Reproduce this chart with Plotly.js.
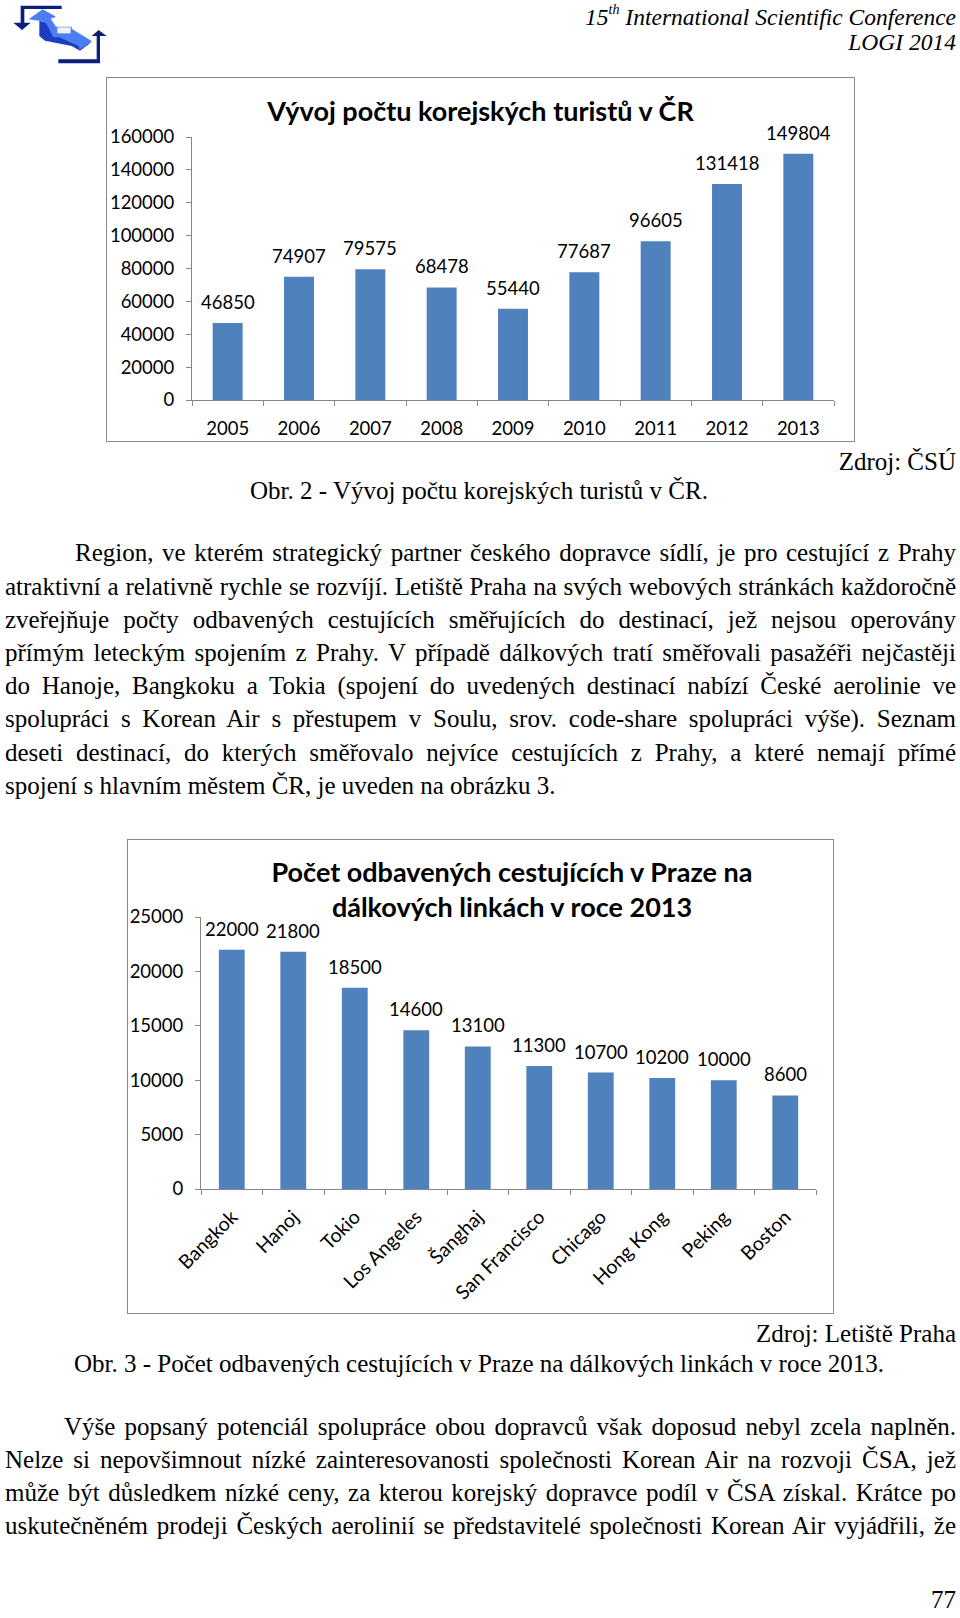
<!DOCTYPE html>
<html><head><meta charset="utf-8">
<script src="https://cdn.plot.ly/plotly-3.0.1.min.js"></script>
<style>
html,body{margin:0;padding:0;background:#fff;}
#page{position:relative;width:960px;height:1618px;overflow:hidden;font-family:"Liberation Serif","Times New Roman",serif;color:#000;}
.t{position:absolute;white-space:nowrap;font-size:25px;line-height:33px;}
.ln{position:absolute;white-space:nowrap;font-size:25px;line-height:33px;}
.hdr{position:absolute;white-space:nowrap;font-style:italic;font-size:23.5px;line-height:26px;right:4px;}
.box{position:absolute;border:1px solid #8a8a8a;box-sizing:border-box;}
.box > div{position:absolute;left:0;top:0;}
</style></head>
<body><div id="page">

<svg style="position:absolute;left:0;top:0" width="120" height="65" viewBox="0 0 360 195">
  <polygon points="118,62 118,108 135,122 215,138 240,152 272,128 215,102 168,102 160,72" fill="#1e3cc0"/>
  <polygon points="86,58 128,28 168,50 152,56 168,80 215,80 215,86 276,124 238,150 236,138 178,112 160,112 140,72 128,64" fill="#4d7df2"/>
  <rect x="172" y="82" width="40" height="18" fill="#f2f2f6"/>
  <polygon points="62,17 185,17 185,27 73,27 73,68 92,68 66,90 40,68 62,68" fill="#0c1f7c"/>
  <polygon points="300,190 175,190 175,178 290,178 290,108 275,108 296,90 320,108 300,108" fill="#0c1f7c"/>
</svg>

<div class="hdr" style="top:4px">15<sup style="font-size:14px;position:relative;top:-2px;line-height:0">th</sup> International Scientific Conference</div>
<div class="hdr" style="top:29px">LOGI 2014</div>

<div class="box" style="left:106px;top:77px;width:749px;height:365px"><div id="chart1"></div></div>

<div class="t" style="right:4px;top:445px">Zdroj: ČSÚ</div>
<div class="t" style="left:0;width:958px;text-align:center;top:474px">Obr. 2 - Vývoj počtu korejských turistů v ČR.</div>

<div class="ln jl" data-w="881" style="left:75px;top:536px">Region, ve kterém strategický partner českého dopravce sídlí, je pro cestující z Prahy</div>
<div class="ln jl" data-w="951" style="left:5px;top:570px">atraktivní a relativně rychle se rozvíjí. Letiště Praha na svých webových stránkách každoročně</div>
<div class="ln jl" data-w="951" style="left:5px;top:603px">zveřejňuje počty odbavených cestujících směřujících do destinací, jež nejsou operovány</div>
<div class="ln jl" data-w="951" style="left:5px;top:636px">přímým leteckým spojením z Prahy. V případě dálkových tratí směřovali pasažéři nejčastěji</div>
<div class="ln jl" data-w="951" style="left:5px;top:669px">do Hanoje, Bangkoku a Tokia (spojení do uvedených destinací nabízí České aerolinie ve</div>
<div class="ln jl" data-w="951" style="left:5px;top:702px">spolupráci s Korean Air s přestupem v Soulu, srov. code-share spolupráci výše). Seznam</div>
<div class="ln jl" data-w="951" style="left:5px;top:736px">deseti destinací, do kterých směřovalo nejvíce cestujících z Prahy, a které nemají přímé</div>
<div class="ln" style="left:5px;top:769px">spojení s hlavním městem ČR, je uveden na obrázku 3.</div>

<div class="box" style="left:127px;top:839px;width:707px;height:475px"><div id="chart2"></div></div>

<div class="t" style="right:4px;top:1317px">Zdroj: Letiště Praha</div>
<div class="t" style="left:0;width:958px;text-align:center;top:1347px">Obr. 3 - Počet odbavených cestujících v Praze na dálkových linkách v roce 2013.</div>

<div class="ln jl" data-w="892" style="left:64px;top:1410px">Výše popsaný potenciál spolupráce obou dopravců však doposud nebyl zcela naplněn.</div>
<div class="ln jl" data-w="951" style="left:5px;top:1443px">Nelze si nepovšimnout nízké zainteresovanosti společnosti Korean Air na rozvoji ČSA, jež</div>
<div class="ln jl" data-w="951" style="left:5px;top:1476px">může být důsledkem nízké ceny, za kterou korejský dopravce podíl v ČSA získal. Krátce po</div>
<div class="ln jl" data-w="951" style="left:5px;top:1509px">uskutečněném prodeji Českých aerolinií se představitelé společnosti Korean Air vyjádřili, že</div>

<div class="t" style="right:4px;top:1590px;line-height:20px">77</div>

</div>
<script>
// ---- data ----
const years = ['2005','2006','2007','2008','2009','2010','2011','2012','2013'];
const tourists = [46850, 74907, 79575, 68478, 55440, 77687, 96605, 131418, 149804];
const yTicks1 = [0, 20000, 40000, 60000, 80000, 100000, 120000, 140000, 160000];
const title1 = 'Vývoj počtu korejských turistů v ČR';

const cities = ['Bangkok','Hanoj','Tokio','Los Angeles','Šanghaj','San Francisco','Chicago','Hong Kong','Peking','Boston'];
const passengers = [22000, 21800, 18500, 14600, 13100, 11300, 10700, 10200, 10000, 8600];
const yTicks2 = [0, 5000, 10000, 15000, 20000, 25000];
const title2 = 'Počet odbavených cestujících v Praze na<br>dálkových linkách v roce 2013';

// ---- styles ----
const BAR = '#4F81BD', AX = '#868686', FONT = 'Lato, "Open Sans", sans-serif', FS = 18.5;

function axisX(n){
  return {type:'category', range:[-0.5, n-0.5], tickson:'boundaries', ticks:'outside', ticklen:5, tickcolor:AX, tickwidth:1,
    showline:true, linecolor:AX, linewidth:1, showgrid:false, zeroline:false, fixedrange:true};
}
function axisY(maxv, vals){
  return {range:[0,maxv], tickvals:vals, ticktext:vals.map(String), ticks:'outside', ticklen:5, tickcolor:AX,
    showline:true, linecolor:AX, linewidth:1, showgrid:false, zeroline:false, ticklabelstandoff:8, fixedrange:true};
}
function labels(ys){
  return ys.map((v,i)=>({x:i, y:v, text:String(v), xref:'x', yref:'y', showarrow:false,
    yanchor:'bottom', yshift:8, font:{family:FONT, size:FS, color:'#000'}}));
}

// chart 1
const x1 = axisX(years.length); x1.ticklabelstandoff = 12;
Plotly.newPlot('chart1', [{type:'bar', x:years, y:tourists, marker:{color:BAR}, hoverinfo:'none'}], {
  width:747, height:363, margin:{l:85, r:20, t:59, b:40.5, pad:0},
  paper_bgcolor:'rgba(0,0,0,0)', plot_bgcolor:'rgba(0,0,0,0)',
  font:{family:FONT, size:FS, color:'#000'},
  title:{text:title1, font:{family:FONT, size:27, weight:700, color:'#000'}, x:0.5, xanchor:'center', xref:'container', y:1-34/363, yanchor:'middle', yref:'container'},
  xaxis:x1, yaxis:axisY(160000, yTicks1), bargap:0.58, showlegend:false,
  annotations:labels(tourists)
}, {staticPlot:true, displayModeBar:false});

// chart 2
const x2 = axisX(cities.length); x2.tickangle = -45; x2.ticklabelstandoff = 8; x2.tickfont = {family:FONT, size:19.5, color:'#000'};
Plotly.newPlot('chart2', [{type:'bar', x:cities, y:passengers, marker:{color:BAR}, hoverinfo:'none'}], {
  width:705, height:473, margin:{l:73, r:17, t:77, b:124, pad:0},
  paper_bgcolor:'rgba(0,0,0,0)', plot_bgcolor:'rgba(0,0,0,0)',
  font:{family:FONT, size:FS, color:'#000'},
  title:{text:title2, font:{family:FONT, size:27, weight:700, color:'#000'}, x:384/705, xanchor:'center', xref:'container', y:1-42/473, yanchor:'middle', yref:'container'},
  xaxis:x2, yaxis:axisY(25000, yTicks2), bargap:0.58, showlegend:false,
  annotations:labels(passengers)
}, {staticPlot:true, displayModeBar:false});

// justify text lines to their measured width
function justify(){
  document.querySelectorAll('.jl').forEach(el=>{
    el.style.wordSpacing = '0px';
    const w = el.getBoundingClientRect().width;
    const n = (el.textContent.match(/ /g)||[]).length;
    const target = parseFloat(el.dataset.w);
    if(n) el.style.wordSpacing = ((target - w)/n) + 'px';
  });
}
justify();
if(document.fonts && document.fonts.ready) document.fonts.ready.then(justify);
</script>
</body></html>
